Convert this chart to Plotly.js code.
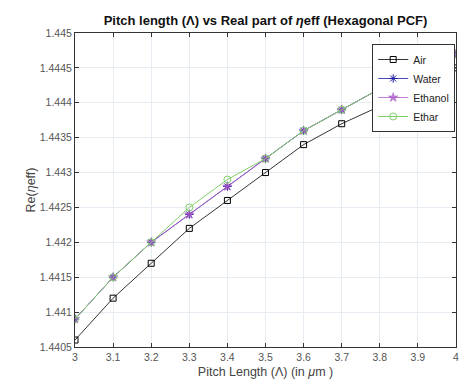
<!DOCTYPE html>
<html>
<head>
<meta charset="utf-8">
<script src="https://cdn.plot.ly/plotly-3.0.1.min.js"></script>
<style>html,body{margin:0;padding:0;background:#fff;}#chart{width:464px;height:391px;}</style>
</head>
<body>
<div id="chart"></div>
<script>
const pitch = [3.0, 3.1, 3.2, 3.3, 3.4, 3.5, 3.6, 3.7, 3.8, 3.9, 4.0];
const air = [1.4406, 1.4412, 1.4417, 1.4422, 1.4426, 1.4430, 1.4434, 1.4437, 1.44395, 1.4442, 1.4445];
const water = [1.4409, 1.4415, 1.4420, 1.4424, 1.4428, 1.4432, 1.4436, 1.4439, 1.4442, 1.4444, 1.4447];
const ethanol = [1.4409, 1.4415, 1.4420, 1.4424, 1.4428, 1.4432, 1.4436, 1.4439, 1.4442, 1.4444, 1.4447];
const ethar = [1.4409, 1.4415, 1.4420, 1.4425, 1.4429, 1.4432, 1.4436, 1.4439, 1.4442, 1.4444, 1.4447];
const names = ["Air", "Water", "Ethanol", "Ethar"];
const xTicks = [3, 3.1, 3.2, 3.3, 3.4, 3.5, 3.6, 3.7, 3.8, 3.9, 4];
const yTicks = [1.4405, 1.441, 1.4415, 1.442, 1.4425, 1.443, 1.4435, 1.444, 1.4445, 1.445];

const traces = [
  {x: pitch, y: air, name: names[0], mode: 'lines+markers',
   line: {color: '#000000', width: 0.8},
   marker: {symbol: 'square-open', size: 6, color: '#000000', line: {width: 1}}},
  {x: pitch, y: water, name: names[1], mode: 'lines+markers',
   line: {color: '#1a1aa0', width: 0.8},
   marker: {symbol: 'asterisk-open', size: 7, color: '#1a1aa0', line: {width: 1, color: '#1a1aa0'}}},
  {x: pitch, y: ethanol, name: names[2], mode: 'lines+markers',
   line: {color: '#b35cc7', width: 0.8},
   marker: {symbol: 'star', size: 7, color: 'rgba(170,90,200,0.75)', line: {width: 0.5, color: '#a050c0'}}},
  {x: pitch, y: ethar, name: names[3], mode: 'lines+markers',
   line: {color: '#7fcf6a', width: 1},
   marker: {symbol: 'circle-open', size: 7, color: '#7fcf6a', line: {width: 1}}}
];

const layout = {
  width: 464, height: 391,
  margin: {l: 75, r: 8, t: 33, b: 44},
  paper_bgcolor: '#ffffff', plot_bgcolor: '#ffffff',
  font: {family: 'Arial, Liberation Sans, sans-serif', size: 10, color: '#444'},
  title: {text: '<b>Pitch length (Λ) vs Real part of <i>η</i>eff (Hexagonal PCF)</b>',
          font: {size: 13, color: '#111'}, xref: 'paper', x: 0.5, xanchor: 'center', y: 0.948, yanchor: 'middle'},
  xaxis: {range: [3, 4], tickvals: xTicks, ticktext: xTicks.map(String),
          title: {text: 'Pitch Length (Λ) (in <i>μ</i>m )', font: {size: 12.5, color: '#444'}, standoff: 5},
          showgrid: true, gridcolor: '#e6ecf2', gridwidth: 1,
          showline: true, linecolor: '#333', linewidth: 1, mirror: 'ticks',
          ticks: 'inside', ticklen: 4, tickcolor: '#333', zeroline: false,
          tickfont: {size: 10.5, color: '#555'}},
  yaxis: {range: [1.4405, 1.445], tickvals: yTicks, ticktext: yTicks.map(v => String(v)),
          title: {text: 'Re(<i>η</i>eff)', font: {size: 12.5, color: '#444'}, standoff: 1},
          showgrid: true, gridcolor: '#e6ecf2', gridwidth: 1,
          showline: true, linecolor: '#333', linewidth: 1, mirror: 'ticks',
          ticks: 'inside', ticklen: 4, tickcolor: '#333', zeroline: false,
          tickfont: {size: 10.5, color: '#555'}},
  legend: {x: 0.78, y: 0.965, xanchor: 'left', yanchor: 'top',
           bgcolor: '#ffffff', bordercolor: '#333', borderwidth: 1,
           font: {size: 10.5, color: '#222'}, tracegroupgap: 0, itemwidth: 30},
  showlegend: true
};

Plotly.newPlot('chart', traces, layout, {displayModeBar: false, staticPlot: true});
</script>
</body>
</html>
